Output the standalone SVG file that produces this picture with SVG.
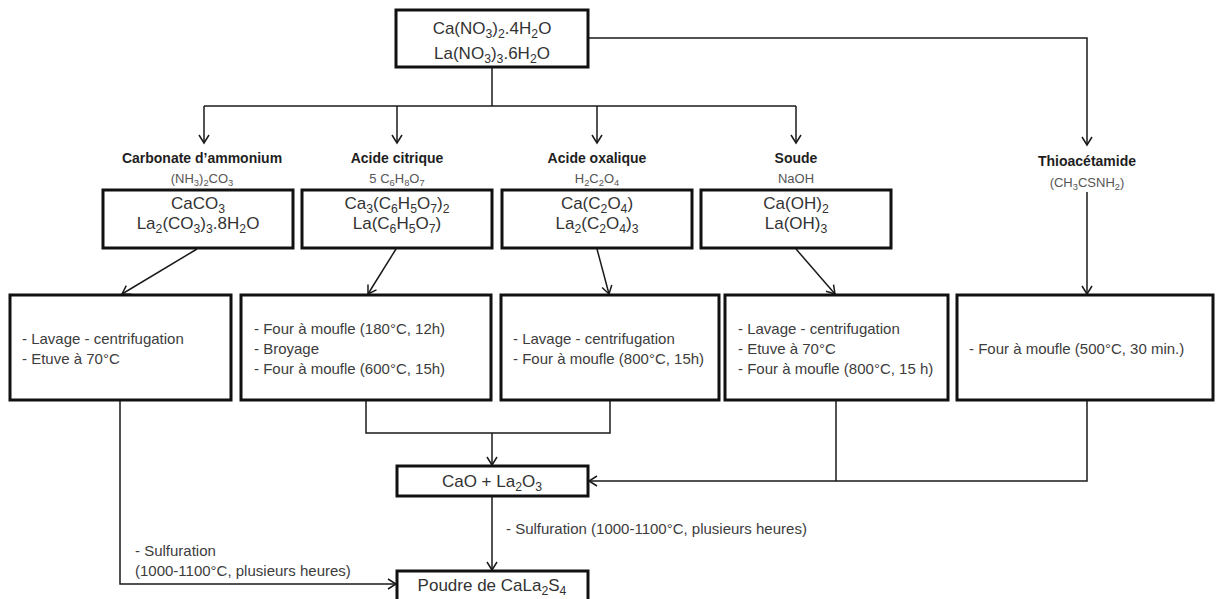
<svg xmlns="http://www.w3.org/2000/svg" width="1216" height="599" viewBox="0 0 1216 599">
<style>
.box{fill:#fff;stroke:#111;stroke-width:3}
.c{fill:none;stroke:#1a1a1a;stroke-width:1.5}
.t{font-family:"Liberation Sans",Arial,sans-serif;fill:#333}
.big{font-size:17px;text-anchor:middle}
.p{font-size:15px;fill:#3c3c3c}
.lb{font-size:14px;font-weight:bold;fill:#1e1e1e;text-anchor:middle}
.sl{font-size:13px;fill:#555;text-anchor:middle}
.s{font-size:72%;baseline-shift:-0.3em}
</style>
<defs>
<marker id="a" viewBox="-10 -6 12 12" refX="0" refY="0" markerWidth="12" markerHeight="12" markerUnits="userSpaceOnUse" orient="auto">
<path d="M-8,-5 L0,0 L-8,5" fill="none" stroke="#1a1a1a" stroke-width="1.5"/>
</marker>
</defs>
<rect width="1216" height="599" fill="#fff"/>
<g id="connectors">
<path class="c" d="M492,67 V106"/>
<path class="c" d="M204,106 H796"/>
<path class="c" d="M204,106 V143" marker-end="url(#a)"/>
<path class="c" d="M397,106 V143" marker-end="url(#a)"/>
<path class="c" d="M597,106 V143" marker-end="url(#a)"/>
<path class="c" d="M796,106 V143" marker-end="url(#a)"/>
<path class="c" d="M588,38 H1087 V145" marker-end="url(#a)"/>
<path class="c" d="M1087,192 V294" marker-end="url(#a)"/>
<path class="c" d="M197,249 L122,294" marker-end="url(#a)"/>
<path class="c" d="M396,249 L368,294" marker-end="url(#a)"/>
<path class="c" d="M597,249 L609,294" marker-end="url(#a)"/>
<path class="c" d="M796,249 L835,294" marker-end="url(#a)"/>
<path class="c" d="M120,401 V584 H396" marker-end="url(#a)"/>
<path class="c" d="M366,401 V433 H610 V401"/>
<path class="c" d="M492,433 V465" marker-end="url(#a)"/>
<path class="c" d="M836,401 V481"/>
<path class="c" d="M1087,401 V481 H589" marker-end="url(#a)"/>
<path class="c" d="M492,497 V570" marker-end="url(#a)"/>
</g>
<g id="n-top">
<rect class="box" x="396" y="10" width="192" height="57"/>
<text class="t big" x="492" y="34">Ca(NO<tspan class="s">3</tspan>)<tspan class="s">2</tspan>.4H<tspan class="s">2</tspan>O</text>
<text class="t big" x="492" y="59">La(NO<tspan class="s">3</tspan>)<tspan class="s">3</tspan>.6H<tspan class="s">2</tspan>O</text>
</g>
<g id="lbl-carbonate">
<text class="t lb" x="202" y="163">Carbonate d’ammonium</text>
<text class="t sl" x="202" y="183">(NH<tspan class="s">3</tspan>)<tspan class="s">2</tspan>CO<tspan class="s">3</tspan></text>
</g>
<g id="lbl-citrique">
<text class="t lb" x="397" y="163">Acide citrique</text>
<text class="t sl" x="397" y="183">5 C<tspan class="s">6</tspan>H<tspan class="s">8</tspan>O<tspan class="s">7</tspan></text>
</g>
<g id="lbl-oxalique">
<text class="t lb" x="597" y="163">Acide oxalique</text>
<text class="t sl" x="597" y="183">H<tspan class="s">2</tspan>C<tspan class="s">2</tspan>O<tspan class="s">4</tspan></text>
</g>
<g id="lbl-soude">
<text class="t lb" x="796" y="163">Soude</text>
<text class="t sl" x="796" y="183">NaOH</text>
</g>
<g id="lbl-thio">
<text class="t lb" x="1087" y="166">Thioacétamide</text>
<text class="t sl" x="1087" y="187">(CH<tspan class="s">3</tspan>CSNH<tspan class="s">2</tspan>)</text>
</g>
<g id="n-carbonate">
<rect class="box" x="103" y="190" width="190" height="58"/>
<text class="t big" x="198" y="209">CaCO<tspan class="s">3</tspan></text>
<text class="t big" x="198" y="229">La<tspan class="s">2</tspan>(CO<tspan class="s">3</tspan>)<tspan class="s">3</tspan>.8H<tspan class="s">2</tspan>O</text>
</g>
<g id="n-citrate">
<rect class="box" x="302" y="190" width="190" height="58"/>
<text class="t big" x="397" y="209">Ca<tspan class="s">3</tspan>(C<tspan class="s">6</tspan>H<tspan class="s">5</tspan>O<tspan class="s">7</tspan>)<tspan class="s">2</tspan></text>
<text class="t big" x="397" y="229">La(C<tspan class="s">6</tspan>H<tspan class="s">5</tspan>O<tspan class="s">7</tspan>)</text>
</g>
<g id="n-oxalate">
<rect class="box" x="502" y="190" width="190" height="58"/>
<text class="t big" x="597" y="209">Ca(C<tspan class="s">2</tspan>O<tspan class="s">4</tspan>)</text>
<text class="t big" x="597" y="229">La<tspan class="s">2</tspan>(C<tspan class="s">2</tspan>O<tspan class="s">4</tspan>)<tspan class="s">3</tspan></text>
</g>
<g id="n-hydroxyde">
<rect class="box" x="701" y="190" width="190" height="58"/>
<text class="t big" x="796" y="209">Ca(OH)<tspan class="s">2</tspan></text>
<text class="t big" x="796" y="229">La(OH)<tspan class="s">3</tspan></text>
</g>
<g id="n-procA">
<rect class="box" x="10" y="295" width="221" height="105"/>
<text class="t p" x="22" y="344">- Lavage - centrifugation</text>
<text class="t p" x="22" y="364">- Etuve à 70°C</text>
</g>
<g id="n-procB">
<rect class="box" x="241" y="295" width="250" height="105"/>
<text class="t p" x="254" y="334">- Four à moufle (180°C, 12h)</text>
<text class="t p" x="254" y="354">- Broyage</text>
<text class="t p" x="254" y="374">- Four à moufle (600°C, 15h)</text>
</g>
<g id="n-procC">
<rect class="box" x="501" y="295" width="218" height="105"/>
<text class="t p" x="513" y="344">- Lavage - centrifugation</text>
<text class="t p" x="513" y="364">- Four à moufle (800°C, 15h)</text>
</g>
<g id="n-procD">
<rect class="box" x="725" y="295" width="223" height="105"/>
<text class="t p" x="738" y="334">- Lavage - centrifugation</text>
<text class="t p" x="738" y="354">- Etuve à 70°C</text>
<text class="t p" x="738" y="374">- Four à moufle (800°C, 15 h)</text>
</g>
<g id="n-procE">
<rect class="box" x="957" y="295" width="256" height="105"/>
<text class="t p" x="969" y="354">- Four à moufle (500°C, 30 min.)</text>
</g>
<g id="n-oxydes">
<rect class="box" x="397" y="466" width="191" height="30"/>
<text class="t big" x="492" y="487">CaO + La<tspan class="s">2</tspan>O<tspan class="s">3</tspan></text>
</g>
<g id="n-poudre">
<rect class="box" x="397" y="571" width="191" height="30"/>
<text class="t big" x="492" y="591">Poudre de CaLa<tspan class="s">2</tspan>S<tspan class="s">4</tspan></text>
</g>
<g id="lbl-sulf">
<text class="t p" x="506" y="534">- Sulfuration (1000-1100°C, plusieurs heures)</text>
<text class="t p" x="135" y="556">- Sulfuration</text>
<text class="t p" x="135" y="576">(1000-1100°C, plusieurs heures)</text>
</g>
</svg>
